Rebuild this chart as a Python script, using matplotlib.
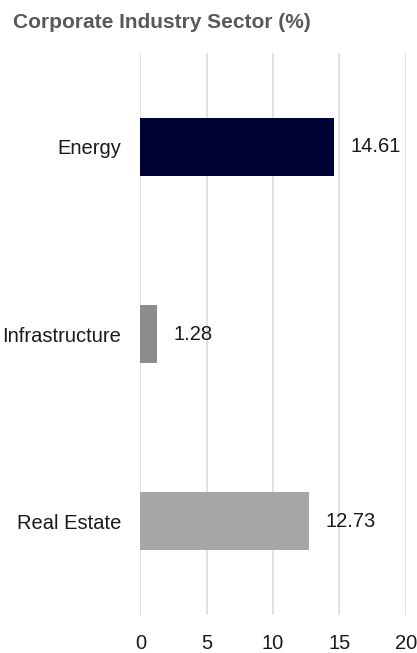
import matplotlib
matplotlib.use("Agg")
import matplotlib.pyplot as plt

plt.rcParams['font.family'] = ['Liberation Sans', 'DejaVu Sans']

sectors = ['Energy', 'Infrastructure', 'Real Estate']
values = [14.61, 1.28, 12.73]
colors = ['#000333', '#8c8c8c', '#a6a6a6']
xticks = [0, 5, 10, 15, 20]

fig = plt.figure(figsize=(4.17, 6.53), dpi=100)
ax = fig.add_axes([0.3365, 0.0582, 0.6365, 0.8606])

ypos = list(range(len(sectors)))
ax.barh(ypos, values, height=0.31, color=colors, zorder=3)
for y, v in zip(ypos, values):
    ax.annotate(f'{v:.2f}', (v, y), xytext=(12, 0), textcoords='offset points',
                va='center', ha='left', fontsize=14.5, color='#1a1a1a')

ax.set_xlim(0, 20)
ax.set_ylim(2.5, -0.5)
ax.set_xticks(xticks)
ax.set_yticks(ypos)
ax.set_yticklabels(sectors)
ax.tick_params(axis='both', length=0, labelsize=14.5, labelcolor='#1a1a1a')
ax.tick_params(axis='y', pad=14)
ax.tick_params(axis='x', pad=14)
ax.grid(axis='x', color='#d9d9d9', linewidth=1.1, zorder=0)
for s in ax.spines.values():
    s.set_visible(False)

fig.text(13 / 417, 1 - 22 / 653, 'Corporate Industry Sector (%)', fontsize=15,
         fontweight='bold', color='#595959', ha='left', va='center')

fig.savefig('out.png', dpi=100)
